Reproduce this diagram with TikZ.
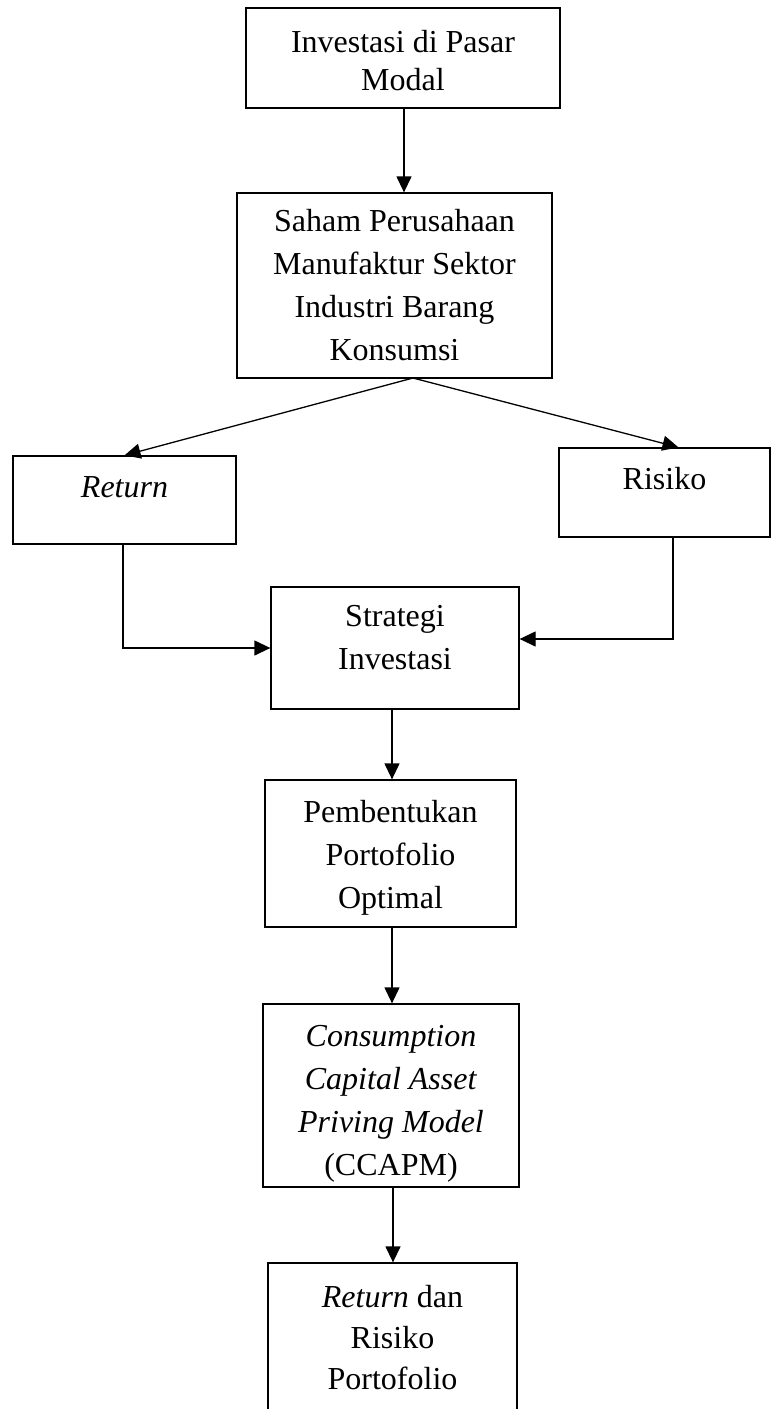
\documentclass[tikz,border=0pt]{standalone}
\usepackage{fontspec}
\setmainfont{Liberation Serif}
\usetikzlibrary{arrows.meta}
\begin{document}
\begin{tikzpicture}[x=1pt,y=-1pt,
  box/.style={draw, line width=1.3pt, align=center, inner sep=0pt,
    font=\fontsize{32}{43}\selectfont},
  conn/.style={line width=1.3pt, -{Triangle[length=16pt,width=15pt]}},
  ]
\useasboundingbox (0,0) rectangle (771,1409);
\clip (0,0) rectangle (771,1409);
\node[box, minimum width=314pt, minimum height=100pt,
  font=\fontsize{32}{38}\selectfont] (b1) at (403,58)
  {\rule{0pt}{28pt}Investasi di Pasar\\Modal};
\node[box, minimum width=315pt, minimum height=185pt] (b2) at (394.5,285.5)
  {Saham Perusahaan\\Manufaktur Sektor\\Industri Barang\\Konsumsi};
\node[box, minimum width=223pt, minimum height=88pt, text height=21pt, text depth=27pt]
  (ret) at (124.5,500) {\textit{Return}};
\node[box, minimum width=211pt, minimum height=89pt, text height=21pt, text depth=27pt]
  (ris) at (664.5,492.5) {Risiko};
\node[box, minimum width=248pt, minimum height=122pt] (str) at (395,648)
  {Strategi\\Investasi\\[-22pt]\mbox{}};
\node[box, minimum width=251pt, minimum height=147pt] (pem) at (390.5,853.5)
  {\rule{0pt}{30pt}Pembentukan\\Portofolio\\Optimal};
\node[box, minimum width=256pt, minimum height=183pt] (cc) at (391,1095.5)
  {\rule{0pt}{37pt}\textit{Consumption}\\\textit{Capital Asset}\\\textit{Priving Model}\\(CCAPM)};
\node[box, minimum width=249pt, minimum height=150pt,
  font=\fontsize{32}{41}\selectfont] (last) at (392.5,1338)
  {\textit{Return} dan\\Risiko\\Portofolio};
\coordinate (split) at (413,378);
\draw[conn] (b1.south -| 404,0) -- (404,0 |- b2.north);
\draw[conn] (split) -- (ret.north);
\draw[conn] (split) -- ([xshift=14pt]ris.north);
\draw[conn] (ret.south -| 123,0) |- (str.west);
\draw[conn] (ris.south -| 673,0) |- ([yshift=9pt]str.east);
\draw[conn] (str.south -| 392,0) -- (392,0 |- pem.north);
\draw[conn] (pem.south -| 392,0) -- (392,0 |- cc.north);
\draw[conn] (cc.south -| 393,0) -- (393,0 |- last.north);
\end{tikzpicture}
\end{document}
